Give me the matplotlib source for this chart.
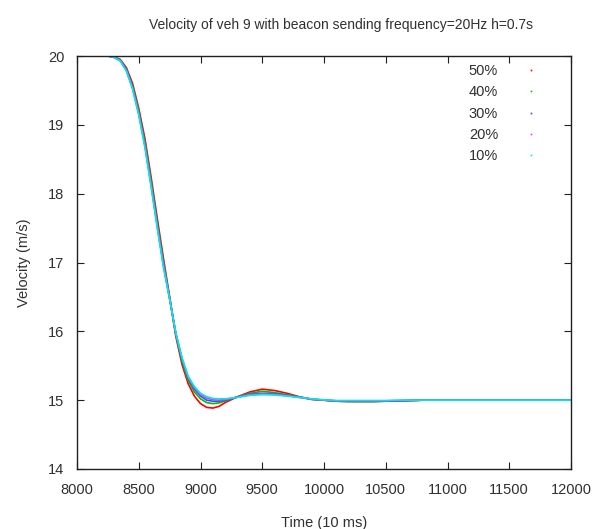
import matplotlib
matplotlib.use("Agg")
import matplotlib.pyplot as plt
from matplotlib.lines import Line2D

title = "Velocity of veh 9 with beacon sending frequency=20Hz h=0.7s"
xlabel = "Time (10 ms)"
ylabel = "Velocity (m/s)"
labels = ["50%", "40%", "30%", "20%", "10%"]
colors = ["#ff0000", "#00c000", "#3050ff", "#e040e0", "#00e8e8"]

time = [8200, 8250, 8300, 8350, 8400, 8450, 8500, 8550, 8600, 8650, 8700,
        8750, 8800, 8850, 8900, 8950, 9000, 9050, 9100, 9150, 9200, 9300,
        9400, 9500, 9600, 9700, 9800, 9900, 10000, 10100, 10200, 10300,
        10400, 10500, 10600, 10700, 10800, 12000]

v50 = [20.0, 20.0, 19.99, 19.95, 19.83, 19.6, 19.24, 18.8, 18.24, 17.64, 17.06,
       16.5, 15.93, 15.52, 15.24, 15.06, 14.95, 14.895, 14.885, 14.91, 14.965, 15.05,
       15.12, 15.16, 15.14, 15.1, 15.05, 15.01, 15.0, 14.985, 14.98, 14.98,
       14.98, 14.985, 14.99, 14.995, 15.0, 15.0]
v40 = [20.0, 20.0, 19.99, 19.94, 19.81, 19.56, 19.2, 18.74, 18.18, 17.58, 17.0,
       16.49, 15.95, 15.56, 15.29, 15.12, 15.02, 14.965, 14.95, 14.96, 14.99, 15.05,
       15.1, 15.13, 15.11, 15.08, 15.045, 15.015, 15.0, 14.985, 14.98, 14.98,
       14.98, 14.985, 14.99, 14.995, 15.0, 15.0]
v30 = [20.0, 20.0, 19.98, 19.94, 19.8, 19.54, 19.17, 18.71, 18.14, 17.54, 16.97,
       16.48, 15.97, 15.59, 15.32, 15.16, 15.06, 15.0, 14.985, 14.985, 15.0, 15.045,
       15.09, 15.1, 15.095, 15.07, 15.045, 15.015, 15.0, 14.99, 14.985, 14.985,
       14.985, 14.99, 14.99, 14.995, 15.0, 15.0]
v20 = [20.0, 20.0, 19.98, 19.93, 19.79, 19.53, 19.16, 18.69, 18.12, 17.52, 16.95,
       16.47, 15.97, 15.61, 15.33, 15.18, 15.08, 15.03, 15.005, 15.0, 15.01, 15.045,
       15.08, 15.09, 15.085, 15.065, 15.04, 15.015, 15.0, 14.99, 14.99, 14.99,
       14.99, 14.99, 14.995, 14.995, 15.0, 15.0]
v10 = [20.0, 20.0, 19.98, 19.93, 19.78, 19.52, 19.14, 18.67, 18.1, 17.5, 16.93,
       16.47, 15.98, 15.62, 15.35, 15.2, 15.1, 15.05, 15.025, 15.02, 15.02, 15.04,
       15.07, 15.08, 15.075, 15.06, 15.04, 15.02, 15.005, 14.995, 14.995, 14.995,
       14.995, 14.995, 15.0, 15.0, 15.0, 15.0]

series = [v50, v40, v30, v20, v10]

plt.rcParams['font.family'] = ['Liberation Sans', 'DejaVu Sans']
txt_color = '#303030'
fig = plt.figure(figsize=(6.02, 5.29), dpi=100)
ax = fig.add_axes([77/602, 60/529, 494/602, 413/529])

for vals, c in zip(series, colors):
    ax.plot(time, vals, color=c, lw=1.2)

ax.set_xlim(8000, 12000)
ax.set_ylim(14, 20)
ax.set_xticks(range(8000, 12001, 500))
ax.set_yticks(range(14, 21))
ax.tick_params(direction='in', length=5, top=True, right=True, labelsize=10.5,
               colors='#202020', labelcolor=txt_color, pad=10)
ax.tick_params(axis='y', pad=9)
for s in ax.spines.values():
    s.set_linewidth(1.0)
    s.set_color('#202020')

fig.text(341/602, 1 - 25/529, title, fontsize=10, color=txt_color,
         ha='center', va='center')
ax.set_xlabel(xlabel, fontsize=10.5, labelpad=14, color=txt_color)
ax.set_ylabel(ylabel, fontsize=10.5, labelpad=12, color=txt_color)

handles = [Line2D([], [], ls='none', marker='s', markersize=1.2, color=c,
                  markeredgewidth=0) for c in colors]
leg = ax.legend(handles, labels, loc='upper right', frameon=False,
                markerfirst=False, fontsize=10.5, handlelength=1.0,
                handletextpad=1.75, labelspacing=0.5,
                bbox_to_anchor=(0.96, 1.012))
for t in leg.get_texts():
    t.set_color(txt_color)

fig.savefig("out.png", dpi=100)
